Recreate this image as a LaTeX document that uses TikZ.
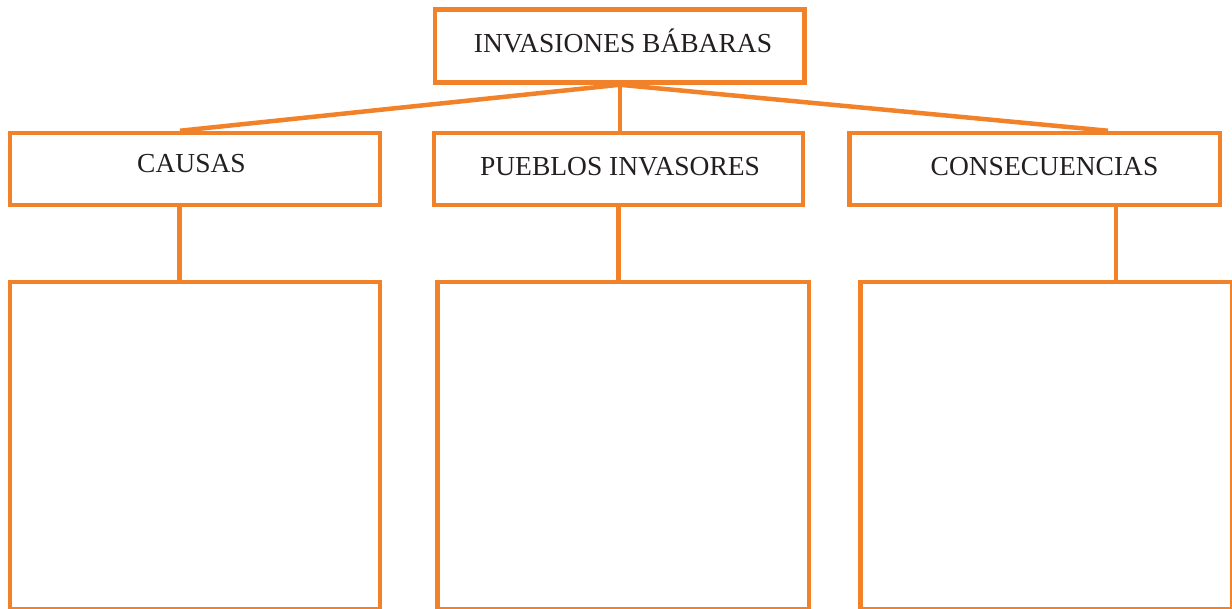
\documentclass[tikz,border=0pt]{standalone}
\usepackage{fontspec}
\setmainfont{Liberation Serif}
\usepackage{tikz}
\usetikzlibrary{positioning}
\definecolor{naranja}{RGB}{241,130,42}
\definecolor{tinta}{RGB}{35,31,32}
\newcommand\rotulo{\fontsize{27.5}{33}\selectfont}

\begin{document}
\begin{tikzpicture}[x=1pt, y=-1pt, line width=4.5pt,
  caja/.style={draw=naranja, inner sep=0pt, minimum height=72pt},
  texto/.style={anchor=base, inner sep=0pt, text=tinta, font=\rotulo},
  enlace/.style={draw=naranja, line width=4.5pt}]
\useasboundingbox (0,0) rectangle (1232,608);%%
%% cajas de arriba
\node[caja, minimum width=369.5pt, minimum height=73pt] (top) at (619.75,46) {};%%
\node[caja, minimum width=370pt] (causas) at (195,169) {};%%
\node[caja, minimum width=369pt] (pueblos) at (618.5,169) {};%%
\node[caja, minimum width=370.5pt] (consec) at (1034.75,169) {};%%
%% cajas vacias de abajo
\node[caja, minimum width=370pt, minimum height=327.5pt] (cbox) at (195,445.75) {};%%
\node[caja, minimum width=371.5pt, minimum height=327.5pt] (pbox) at (623.25,445.75) {};%%
\node[caja, minimum width=371.5pt, minimum height=327.5pt] (sbox) at (1046.25,445.75) {};%%
%% textos
\node[texto] (top-t) at (623,52) {INVASIONES BÁBARAS};%%
\node[texto] (causas-t) at (191.5,172) {CAUSAS};%%
\node[texto] (pueblos-t) at (620,175) {PUEBLOS INVASORES};%%
\node[texto] (consec-t) at (1044.5,175) {CONSECUENCIAS};%%
%% enlaces
\coordinate (cl) at (180,0);%%
\coordinate (cr) at (1108,0);%%
\coordinate (cv) at (179.5,0);%%
\coordinate (sv) at (1116,0);%%
\draw[enlace] (top.south) -- (cl |- causas.north);%%
\draw[enlace] (top.south) -- (cr |- consec.north);%%
\draw[enlace] (top.south) -- (top.south |- pueblos.north);%%
\draw[enlace] (cv |- causas.south) -- (cv |- cbox.north);%%
\draw[enlace] (pueblos.south) -- (pueblos.south |- pbox.north);%%
\draw[enlace] (sv |- consec.south) -- (sv |- sbox.north);%%
\end{tikzpicture}
\end{document}
